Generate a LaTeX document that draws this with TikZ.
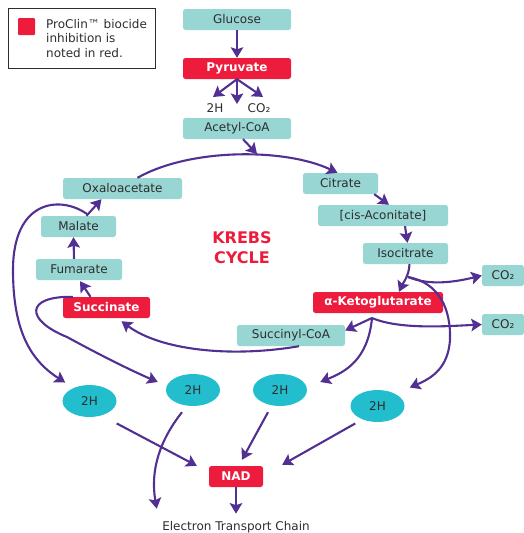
\documentclass[tikz,border=0pt]{standalone}
\usepackage{fontspec}
\setmainfont{DejaVu Sans}
\usetikzlibrary{arrows.meta}
\usetikzlibrary{shapes.geometric}
\definecolor{boxteal}{RGB}{152,214,211}
\definecolor{inhibred}{RGB}{237,27,60}
\definecolor{cyclepurple}{RGB}{82,47,146}
\definecolor{hydrocyan}{RGB}{34,190,205}
\definecolor{darktext}{RGB}{45,45,45}

\begin{document}
\begin{tikzpicture}[x=1pt,y=-1pt,
  every node/.style={font=\fontsize{12}{14.5}\selectfont,text=darktext},
  box/.style={fill=boxteal,rounded corners=2.5pt,minimum height=21pt,inner sep=0pt},
  redbox/.style={fill=inhibred,rounded corners=2.5pt,minimum height=21pt,inner sep=0pt,
    text=white,font=\fontsize{12}{14.5}\selectfont\bfseries},
  hh/.style={ellipse,fill=hydrocyan,minimum width=54pt,minimum height=32pt,inner sep=0pt},
  arr/.style={draw=cyclepurple,line width=2.1pt,-{Stealth[length=10.5pt,width=12.5pt,inset=2pt]}}]
        \useasboundingbox (0,0) rectangle (524,533);
        \node[draw=darktext,line width=1pt,minimum width=147pt,minimum height=60pt,inner sep=0pt] (legend) at (81.5,38) {};
        \node[fill=inhibred,minimum size=17pt,inner sep=0pt,rounded corners=1pt] (legkey) at (26.5,26.5) {};
        \node[anchor=north west,align=left,inner sep=0pt] (legtext) at (46,19) {ProClin™ biocide\\inhibition is\\noted in red.};
        \foreach \n/\x/\y/\w/\t in {glucose/237/19.5/108/Glucose, acetyl/237/128.5/108/Acetyl-CoA,
          oxalo/122.5/188.5/119/Oxaloacetate, citrate/340.5/183.5/75/Citrate,
          aconitate/383/215.5/130/{[cis-Aconitate]}, isocitrate/405.5/253.5/85/Isocitrate,
          co2b/503/275.5/42/CO₂, co2c/503/324.5/42/CO₂, succoa/291/335.5/108/Succinyl-CoA,
          fumarate/79/269.5/86/Fumarate, malate/78.5/226.5/75/Malate} {
          \node[box,minimum width=\w pt] (\n) at (\x,\y) {\t};
        }
        \foreach \n/\x/\y/\w/\t in {pyruvate/237/68.5/108/Pyruvate, akg/378/302.5/130/α-Ketoglutarate,
          succinate/106.5/307.5/87/Succinate, nad/236/476.5/54/NAD} {
          \node[redbox,minimum width=\w pt] (\n) at (\x,\y) {\t};
        }
        \foreach \n/\x/\y in {h1/89.5/401, h2/193/390, h3/280/390, h4/377.5/406} {
          \node[hh] (\n) at (\x,\y) {2H};
        }
        \node (pyrh) at (215,108) {2H};
        \node (pyrco) at (259,108) {CO₂};
        \node[text=inhibred,align=center,font=\fontsize{16}{20}\selectfont\bfseries] (krebs) at (242,248) {KREBS\\CYCLE};
        \node (etc) at (236,527) {Electron Transport Chain};
        \coordinate (pyrdown) at (237,104);
        \coordinate (accjoin) at (257,154);
        \coordinate (isofork) at (408,277);
        \coordinate (akgfork) at (372,318);
        \coordinate (malfork) at (87,214);
        \draw[arr] (glucose) -- (pyruvate);
        \draw[arr] (pyruvate.south) -- ([shift={(-2,-3)}]pyrh.north);
        \draw[arr] (pyruvate.south) -- (pyrdown);
        \draw[arr] (pyruvate.south) -- ([shift={(4,-3)}]pyrco.north);
        \draw[arr] ([shift={(6,0)}]acetyl.south) -- (accjoin);
        \draw[arr] ([shift={(15,0)}]oxalo.north) .. controls (190,148) and (285,148) .. ([shift={(-3,0)}]citrate.north);
        \draw[arr] ([shift={(-4,0)}]citrate.south east) -- ([shift={(6,0)}]aconitate.north);
        \draw[arr] ([shift={(22,0)}]aconitate.south) -- ([shift={(2,0)}]isocitrate.north);
        \draw[arr] ([shift={(4,0)}]isocitrate.south) .. controls (409,276) and (403,283) .. ([shift={(21,0)}]akg.north);
        \draw[arr] (isofork) .. controls (430,286) and (455,282) .. (co2b.west);
        \draw[arr] (isofork) .. controls (440,283) and (451,310) .. (450,340)
          .. controls (448,368) and (432,378) .. ([shift={(13,-7)}]h4.north east);
        \draw[arr] (akgfork) -- ([shift={(0,-5)}]succoa.east);
        \draw[arr] (akgfork) .. controls (400,330) and (450,326) .. (co2c.west);
        \draw[arr] (akgfork) .. controls (368,360) and (345,372) .. ([shift={(13,-8)}]h3.east);
        \draw[arr] ([shift={(8,0)}]succoa.south) .. controls (230,358) and (160,350) .. ([shift={(15,3)}]succinate.south);
        \draw[arr] ([shift={(-16,0)}]succinate.north) -- ([shift={(1,1)}]fumarate.south);
        \draw[arr] ([shift={(-5,0)}]fumarate.north) -- ([shift={(-5,0)}]malate.south);
        \draw[arr] ([shift={(8,0)}]malate.north) -- ([shift={(-21,0)}]oxalo.south);
        \draw[arr] (malfork) .. controls (60,195) and (13,200) .. (13,270)
          .. controls (13,330) and (30,360) .. ([shift={(-5,-7)}]h1.north west);
        \draw[arr] ([shift={(10,0)}]succinate.north west) .. controls (25,296) and (25,320) .. (67,337)
          .. controls (100,355) and (130,370) .. ([shift={(-8,-8)}]h2.west);
        \draw[arr] ([shift={(8,11)}]h1.south east) -- ([shift={(-12,0)}]nad.north west);
        \draw[arr] ([shift={(-12,6)}]h3.south) -- ([shift={(6,-6)}]nad.north);
        \draw[arr] ([shift={(-3,6)}]h4.south west) -- ([shift={(19,-1)}]nad.north east);
        \draw[arr] ([shift={(-11,6)}]h2.south) .. controls (160,440) and (150,470) .. ([shift={(-2,-9)}]etc.north west);
        \draw[arr] (nad.south) -- ([shift={(0,-4)}]etc.north);
\end{tikzpicture}
\end{document}
